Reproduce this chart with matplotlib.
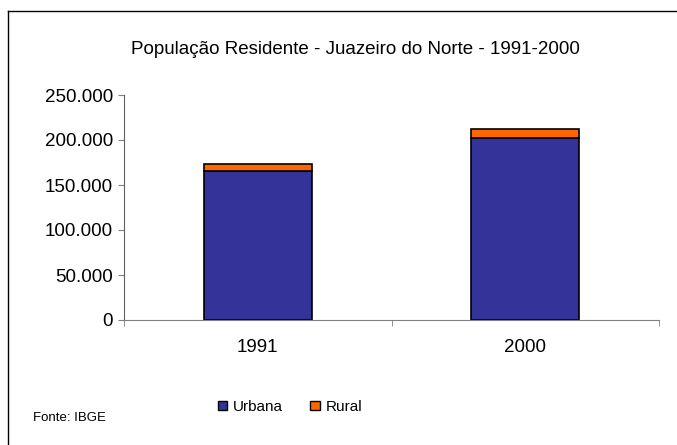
import matplotlib
matplotlib.use("Agg")
import matplotlib.pyplot as plt
from matplotlib.lines import Line2D
from matplotlib.patches import Patch
from matplotlib.ticker import FuncFormatter, FixedLocator

plt.rcParams["font.family"] = ["Liberation Sans", "DejaVu Sans"]

years = ["1991", "2000"]
urbana = [165500, 202200]
rural = [8000, 9900]

fig = plt.figure(figsize=(6.77, 4.45), dpi=100)
ax = fig.add_axes([124 / 677, 125 / 445, 535 / 677, 225 / 445])

x = list(range(len(years)))
ax.bar(x, urbana, width=0.405, color="#333399", edgecolor="black", linewidth=1.2, label="Urbana")
ax.bar(x, rural, width=0.405, bottom=urbana, color="#FF6600", edgecolor="black", linewidth=1.2, label="Rural")

ax.set_xlim(-0.5, 1.5)
ax.set_ylim(0, 250000)
ax.set_yticks(range(0, 250001, 50000))
ax.yaxis.set_major_formatter(FuncFormatter(lambda v, p: f"{int(v):,}".replace(",", ".")))
ax.set_xticks(x)
ax.set_xticklabels(years)
ax.xaxis.set_minor_locator(FixedLocator([-0.5, 0.5, 1.5]))
ax.tick_params(axis="x", which="major", length=0, pad=14, labelsize=13.5)
ax.tick_params(axis="x", which="minor", length=4, color="#808080", direction="out")
ax.tick_params(axis="y", length=4, color="#808080", direction="out", labelsize=13.5, pad=4)

for s in ["top", "right"]:
    ax.spines[s].set_visible(False)
ax.spines["left"].set_color("#606060")
ax.spines["bottom"].set_color("#808080")

fig.text(355 / 677, 1 - 50 / 445, "População Residente - Juazeiro do Norte - 1991-2000",
         ha="center", va="center", fontsize=13.5)

handles = [Patch(facecolor="#333399", edgecolor="black", label="Urbana"),
           Patch(facecolor="#FF6600", edgecolor="black", label="Rural")]
fig.legend(handles=handles, loc="center", bbox_to_anchor=(290 / 677, 1 - 407 / 445),
           ncol=2, frameon=False, fontsize=11, handlelength=0.6, handleheight=0.6,
           handletextpad=0.4, columnspacing=1.8, borderpad=0)

fig.text(33 / 677, 1 - 418 / 445, "Fonte: IBGE", ha="left", va="center", fontsize=9.5)

# chart area border (left and top edges visible)
fig.add_artist(Line2D([8 / 677, 8 / 677], [0, 1 - 11 / 445], transform=fig.transFigure, color="black", linewidth=1))
fig.add_artist(Line2D([8 / 677, 1], [1 - 11 / 445, 1 - 11 / 445], transform=fig.transFigure, color="black", linewidth=1))

fig.savefig("out.png", dpi=100)
